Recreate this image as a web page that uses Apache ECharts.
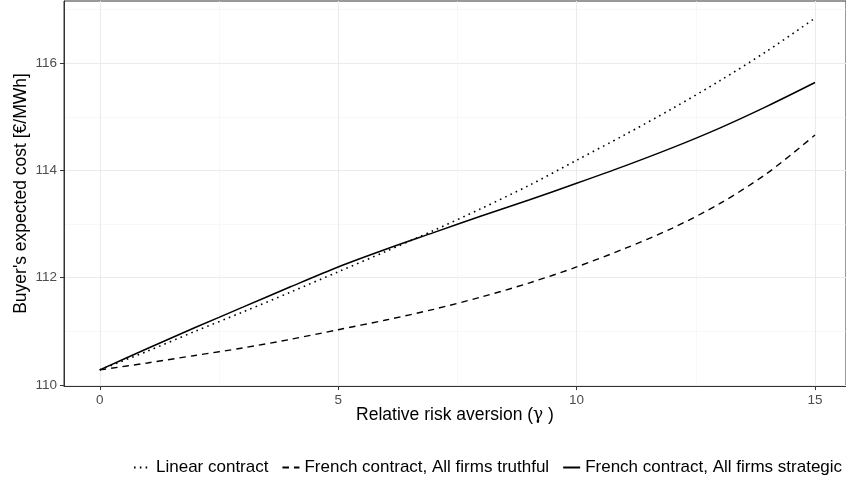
<!DOCTYPE html>
<html>
<head>
<meta charset="utf-8">
<script src="https://cdn.jsdelivr.net/npm/echarts@6/dist/echarts.min.js"></script>
<style>
  html, body { margin: 0; padding: 0; background: #fff; }
  #chart { width: 846px; height: 489px; }
</style>
</head>
<body>
<div id="chart"></div>
<script>
// relative risk aversion
const gamma = [0, 1, 2, 3, 4, 5, 6, 7, 8, 9, 10, 11, 12, 13, 14, 15];
// buyer's expected cost, EUR/MWh
const linearContract = [110.28, 110.63, 111.00, 111.36, 111.73, 112.11, 112.49, 112.88, 113.29, 113.72, 114.19, 114.66, 115.15, 115.67, 116.23, 116.84];
const frenchTruthful = [110.28, 110.41, 110.55, 110.69, 110.85, 111.03, 111.21, 111.41, 111.64, 111.90, 112.20, 112.54, 112.92, 113.38, 113.95, 114.66];
const frenchStrategic = [110.28, 110.68, 111.07, 111.45, 111.83, 112.20, 112.53, 112.84, 113.15, 113.45, 113.76, 114.08, 114.42, 114.79, 115.20, 115.64];

const xTicks = [0, 5, 10, 15];
const xMinorTicks = [2.5, 7.5, 12.5];
const yTicks = [110, 112, 114, 116];
const yMinorTicks = [111, 113, 115, 117];

const seriesNames = ['Linear contract', 'French contract, All firms truthful', 'French contract, All firms strategic'];

function pairs(ys) {
  return gamma.map(function (g, i) { return [g, ys[i]]; });
}

const chart = echarts.init(document.getElementById('chart'), null, { renderer: 'canvas' });

const font = 'Liberation Sans, Arial, Helvetica, sans-serif';
const xRange = { min: -0.75, max: 15.65 };
const yRange = { min: 109.98, max: 117.16 };

var option = {
  animation: false,
  backgroundColor: '#ffffff',
  textStyle: { fontFamily: font },
  grid: {
    left: 64, right: 0, top: 1, bottom: 103,
    show: true,
    borderColor: '#333333',
    borderWidth: 1,
    backgroundColor: 'transparent'
  },
  legend: {
    left: 133,
    top: 459,
    padding: 0,
    itemGap: 13,
    itemWidth: 17,
    itemHeight: 12,
    itemStyle: { color: 'rgba(0,0,0,0)', borderWidth: 0, opacity: 0 },
    textStyle: { fontFamily: font, fontSize: 17, color: '#000' },
    data: seriesNames
  },
  xAxis: [
    {
      type: 'value',
      min: xRange.min, max: xRange.max,
      position: 'bottom',
      name: 'Relative risk aversion ({g|γ} )',
      nameLocation: 'middle',
      nameGap: 20,
      nameMoveOverlap: false,
      nameTextStyle: {
        fontFamily: font, fontSize: 17.5, color: '#000',
        rich: { g: { fontFamily: 'DejaVu Serif, Liberation Serif, serif', fontSize: 17, color: '#000' } }
      },
      axisLine: { show: true, onZero: false, lineStyle: { color: '#333333', width: 1 } },
      axisTick: { show: true, length: 4, customValues: xTicks, lineStyle: { color: '#333333', width: 1 } },
      axisLabel: { customValues: xTicks, margin: 7, fontSize: 13.5, color: '#4d4d4d', fontFamily: font },
      splitLine: { show: true, lineStyle: { color: '#ebebeb', width: 1.1 } }
    },
    {
      type: 'value',
      min: xRange.min, max: xRange.max,
      position: 'bottom',
      axisLine: { show: false, onZero: false },
      axisTick: { show: false, customValues: xMinorTicks },
      axisLabel: { show: false },
      splitLine: { show: true, lineStyle: { color: '#f3f3f3', width: 0.6 } }
    }
  ],
  yAxis: [
    {
      type: 'value',
      min: yRange.min, max: yRange.max,
      position: 'left',
      name: "Buyer's expected cost [€/MWh]",
      nameLocation: 'middle',
      nameGap: 34,
      nameMoveOverlap: false,
      nameTextStyle: { fontFamily: font, fontSize: 17.5, color: '#000' },
      axisLine: { show: true, onZero: false, lineStyle: { color: '#333333', width: 1 } },
      axisTick: { show: true, length: 4, customValues: yTicks, lineStyle: { color: '#333333', width: 1 } },
      axisLabel: { customValues: yTicks, margin: 7, fontSize: 13.5, color: '#4d4d4d', fontFamily: font },
      splitLine: { show: true, lineStyle: { color: '#ebebeb', width: 1.1 } }
    },
    {
      type: 'value',
      min: yRange.min, max: yRange.max,
      position: 'left',
      offset: 0,
      axisLine: { show: false, onZero: false },
      axisTick: { show: false, customValues: yMinorTicks },
      axisLabel: { show: false },
      splitLine: { show: true, lineStyle: { color: '#f3f3f3', width: 0.6 } }
    }
  ],
  series: [
    {
      name: seriesNames[0],
      type: 'line',
      xAxisIndex: 0, yAxisIndex: 0,
      symbol: 'none',
      smooth: 0.3,
      lineStyle: { color: '#000', width: 1.6, type: [1.6, 4.2] },
      itemStyle: { color: '#000' },
      data: pairs(linearContract)
    },
    {
      name: seriesNames[1],
      type: 'line',
      xAxisIndex: 0, yAxisIndex: 0,
      symbol: 'none',
      smooth: 0.3,
      lineStyle: { color: '#000', width: 1.4, type: [6.5, 5] },
      itemStyle: { color: '#000' },
      data: pairs(frenchTruthful)
    },
    {
      name: seriesNames[2],
      type: 'line',
      xAxisIndex: 0, yAxisIndex: 0,
      symbol: 'none',
      smooth: 0.3,
      lineStyle: { color: '#000', width: 1.5, type: 'solid' },
      itemStyle: { color: '#000' },
      data: pairs(frenchStrategic)
    }
  ]
};

chart.setOption(option);
</script>
</body>
</html>
